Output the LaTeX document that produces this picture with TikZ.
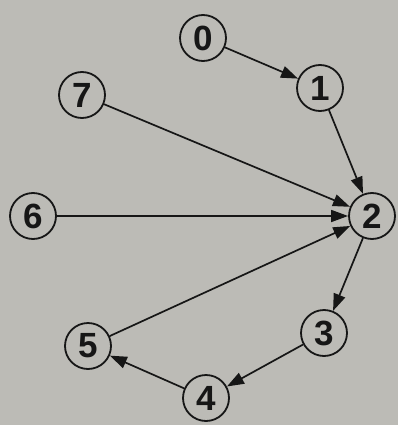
\documentclass[tikz,border=0pt]{standalone}
\usepackage{fontspec}
\setmainfont{Liberation Sans}
\usetikzlibrary{arrows.meta}
\definecolor{paper}{RGB}{188,187,182}
\definecolor{ink}{RGB}{22,22,22}
\begin{document}
\begin{tikzpicture}[x=1pt,y=-1pt,
  vert/.style={circle,draw=ink,line width=1.8pt,minimum size=46pt,inner sep=0pt,
    font=\bfseries\fontsize{35}{35}\selectfont,text=ink},
  link/.style={draw=ink,line width=1.7pt,-{Triangle[length=17pt,width=12pt]}}]
  \fill[paper] (0,0) rectangle (398,425);
  \useasboundingbox (0,0) rectangle (398,425);
  \node[vert] (n0) at (203,38) {0};
  \node[vert] (n1) at (320,88) {1};
  \node[vert] (n7) at (82,95) {7};
  \node[vert] (n2) at (372,216) {2};
  \node[vert] (n6) at (33,216) {6};
  \node[vert] (n3) at (324,333) {3};
  \node[vert] (n5) at (88,346) {5};
  \node[vert] (n4) at (206,398) {4};
  \draw[link] (n0) -- (n1);
  \draw[link] (n1) -- (n2);
  \draw[link] (n7) -- (n2);
  \draw[link] (n6) -- (n2);
  \draw[link] (n5) -- (n2);
  \draw[link] (n2) -- (n3);
  \draw[link] (n3) -- (n4);
  \draw[link] (n4) -- (n5);
\end{tikzpicture}
\end{document}
